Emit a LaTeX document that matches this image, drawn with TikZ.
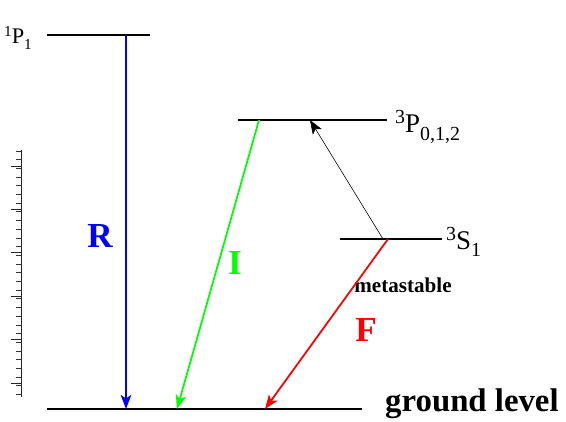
\documentclass[tikz,border=0pt]{standalone}
\usepackage{fontspec}
\setmainfont{Liberation Serif}
\usetikzlibrary{arrows.meta}

% term symbol: size, index size, superscript, letter, subscript
\newcommand{\stname}[5]{{\fontsize{#1}{#1}\selectfont\raisebox{0.75ex}{\fontsize{#2}{#2}\selectfont #3}#4\raisebox{-0.6ex}{\fontsize{#2}{#2}\selectfont #5}}}

\begin{document}
\begin{tikzpicture}[
  x=0.03cm, y=-0.03cm,
  lvl/.style={line width=1.6pt},
  tr/.style={line width=1.5pt, -{Stealth[length=12pt, width=9pt, inset=3pt]}},
  trm/.style={font=\fontsize{30}{30}\selectfont\bfseries},
  term/.style={inner sep=0pt}
]
  \useasboundingbox (0,0) rectangle (566,421);
  % ruler stub at the left edge
  \draw[black!85, line width=0.8pt] (21,150) -- (21,397);
  \foreach \k in {0,...,28} {
    \draw[black!80, line width=0.7pt] (21,{151+8.7*\k}) -- ++(-5,0);
  }
  \foreach \k in {0,...,5} {
    \draw[black!85, line width=0.8pt] (21,{166+43.4*\k}) -- ++(-10,0);
  }

  % levels
  \coordinate (p1a) at (47,35);   \coordinate (p1b) at (150,35);
  \coordinate (p3a) at (238,120); \coordinate (p3b) at (387,120);
  \coordinate (s3a) at (340,239); \coordinate (s3b) at (442,239);
  \coordinate (gla) at (47,409);  \coordinate (glb) at (362,409);
  \draw[lvl] (p1a) -- (p1b);
  \draw[lvl] (p3a) -- (p3b);
  \draw[lvl] (s3a) -- (s3b);
  \draw[lvl] (gla) -- (glb);

  \node[term, anchor=west] (p1) at (4,38) {\stname{19}{13}{1}{P}{1}};
  \node[term, anchor=west] (p3) at (395,127) {\stname{23}{17}{3}{P}{0,1,2}};
  \node[term, anchor=west] (s3) at (446,242) {\stname{23}{17}{3}{S}{1}};
  \node[font=\fontsize{28}{28}\selectfont\bfseries, anchor=west, inner sep=0pt] (gl) at (385,404) {ground level};
  \node[font=\fontsize{18}{18}\selectfont\bfseries] (ms) at (403,285) {metastable};

  % transitions
  \coordinate (rt) at (126,35);  \coordinate (rb) at (126,409);
  \coordinate (it) at (259,120); \coordinate (ib) at (177,409);
  \coordinate (ft) at (388,239); \coordinate (fb) at (265,409);
  \coordinate (et) at (310,120); \coordinate (eb) at (383,239);
  \draw[tr, blue] (rt) -- (rb);
  \draw[tr, green] (it) -- (ib);
  \draw[tr, red] (ft) -- (fb);
  \draw[line width=0.5pt, -{Stealth[length=12pt, width=9pt, inset=3pt]}] (eb) -- (et);

  \node[trm, blue] (r) at (100,236) {R};
  \node[trm, green] (i) at (235,263) {I};
  \node[trm, red] (f) at (366,330) {F};
\end{tikzpicture}
\end{document}
